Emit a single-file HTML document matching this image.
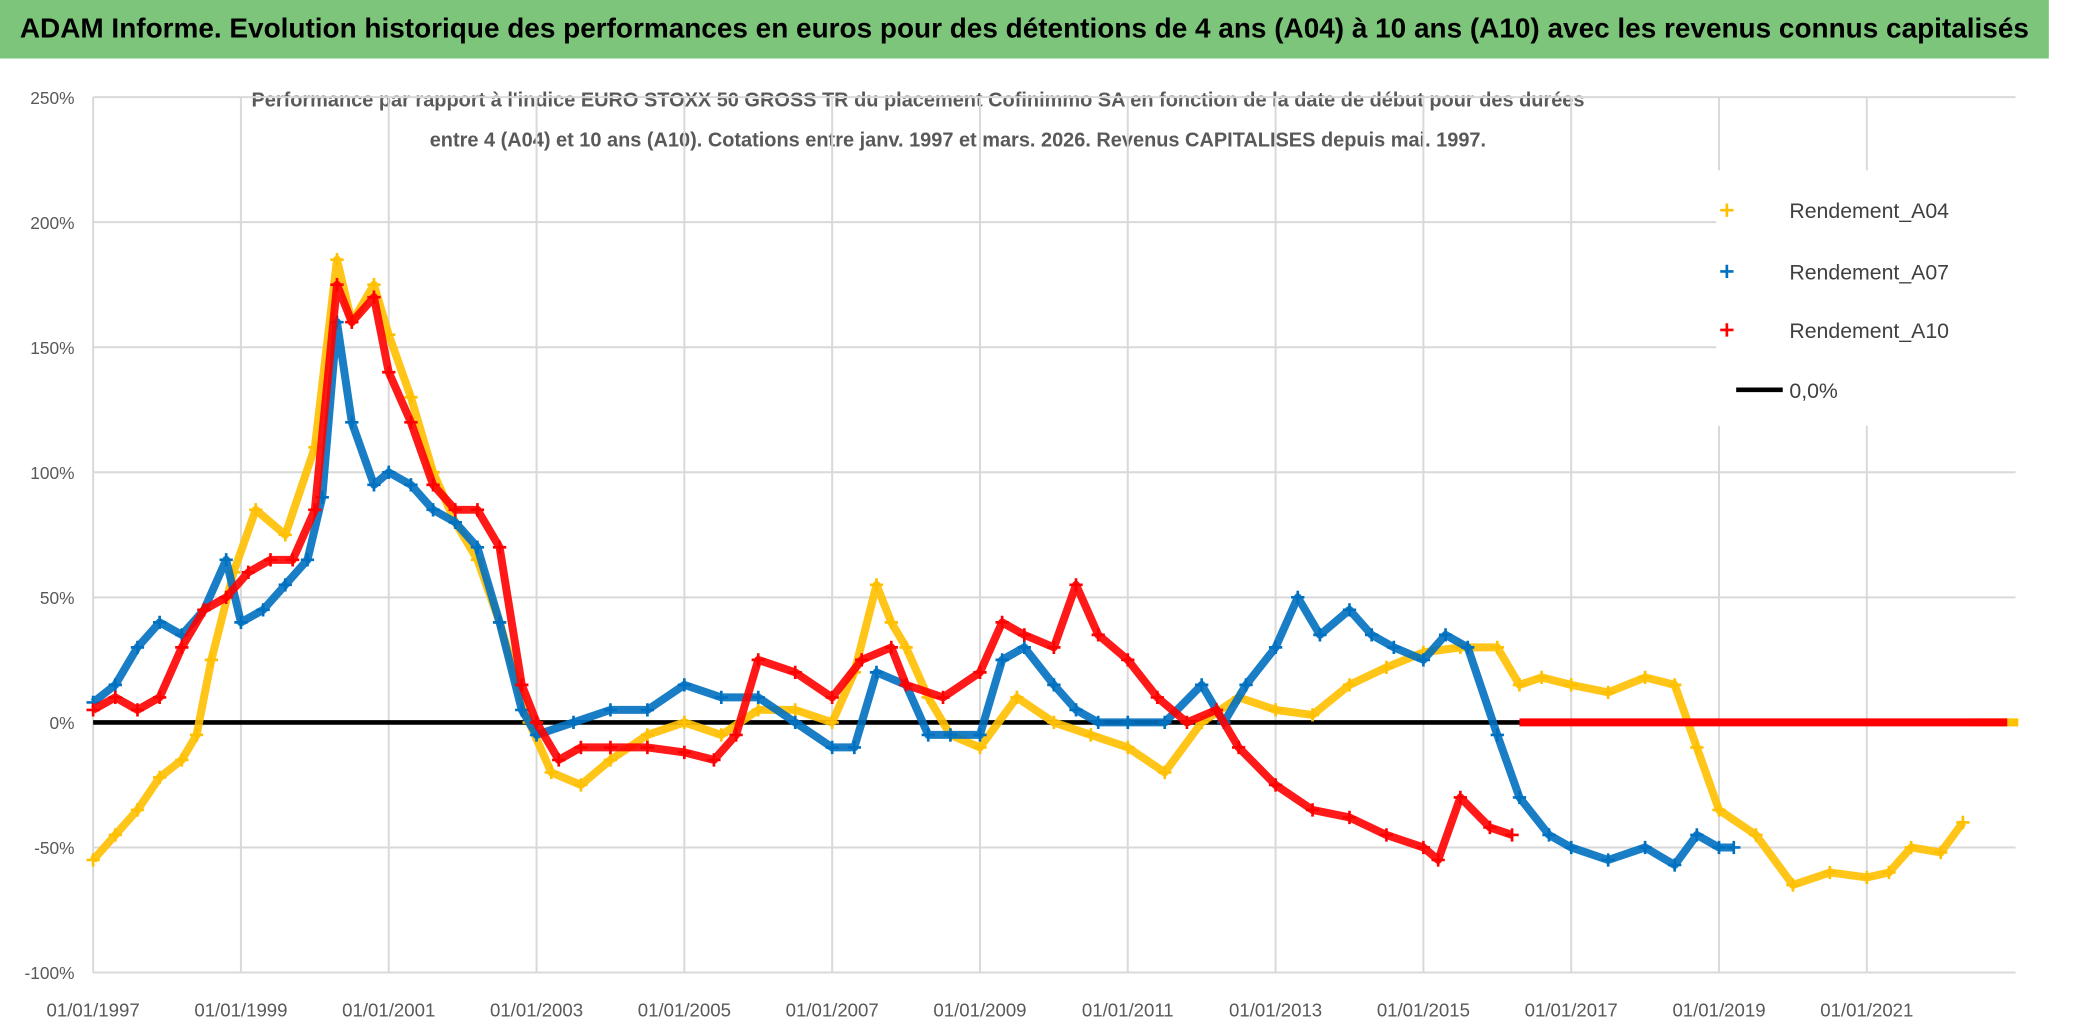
<!DOCTYPE html>
<html><head><meta charset="utf-8">
<style>
body{margin:0;background:#fff;font-family:"Liberation Sans",sans-serif;}
#wrap{position:relative;width:2086px;height:1031px;overflow:hidden;}
#inner{position:absolute;left:0;top:0;width:1568px;height:775px;transform:scale(1.3304);transform-origin:0 0;}
#title{position:absolute;left:0;top:0;width:1540px;height:44px;background:#7cc57a;color:#000;font-weight:bold;font-size:21px;line-height:44px;text-align:center;white-space:nowrap;}
</style></head><body>
<div id="wrap">
<div id="inner">
<div id="title">ADAM Informe. Evolution historique des performances en euros pour des détentions de 4 ans (A04) à 10 ans (A10) avec les revenus connus capitalisés</div>
<svg id="svg" width="1568" height="775" style="position:absolute;left:0;top:0"></svg>
</div>
</div>
<script>
const yTicks=[250,200,150,100,50,0,-50,-100];
const yTickLabels=["250%","200%","150%","100%","50%","0%","-50%","-100%"];
const xTickYears=[1997,1999,2001,2003,2005,2007,2009,2011,2013,2015,2017,2019,2021];
const xTickLabels=["01/01/1997","01/01/1999","01/01/2001","01/01/2003","01/01/2005","01/01/2007","01/01/2009","01/01/2011","01/01/2013","01/01/2015","01/01/2017","01/01/2019","01/01/2021"];
const a04Years=[1997,1997.3,1997.6,1997.9,1998.2,1998.4,1998.6,1998.9,1999.2,1999.6,2000,2000.3,2000.5,2000.8,2001,2001.3,2001.6,2001.9,2002.2,2002.5,2002.9,2003.2,2003.6,2004,2004.5,2005,2005.5,2006,2006.5,2007,2007.3,2007.6,2007.8,2008,2008.3,2008.6,2009,2009.5,2010,2010.5,2011,2011.5,2012,2012.5,2013,2013.5,2014,2014.5,2015,2015.5,2016,2016.3,2016.6,2017,2017.5,2018,2018.4,2018.7,2019,2019.5,2020,2020.5,2021,2021.3,2021.6,2022,2022.3];
const a04Vals=[-55,-45,-35,-22,-15,-5,25,60,85,75,110,185,160,175,155,130,100,80,65,40,0,-20,-25,-15,-5,0,-5,5,5,0,20,55,40,30,10,-5,-10,10,0,-5,-10,-20,0,10,5,3,15,22,28,30,30,15,18,15,12,18,15,-10,-35,-45,-65,-60,-62,-60,-50,-52,-40];
const a04ZeroYears=[2022.4,2023.05];
const a07Years=[1997,1997.3,1997.6,1997.9,1998.2,1998.5,1998.8,1999,1999.3,1999.6,1999.9,2000.1,2000.3,2000.5,2000.8,2001,2001.3,2001.6,2001.9,2002.2,2002.5,2002.8,2003,2003.5,2004,2004.5,2005,2005.5,2006,2006.5,2007,2007.3,2007.6,2008,2008.3,2008.6,2009,2009.3,2009.6,2010,2010.3,2010.6,2011,2011.5,2012,2012.3,2012.6,2013,2013.3,2013.6,2014,2014.3,2014.6,2015,2015.3,2015.6,2016,2016.3,2016.7,2017,2017.5,2018,2018.4,2018.7,2019,2019.2];
const a07Vals=[8,15,30,40,35,45,65,40,45,55,65,90,160,120,95,100,95,85,80,70,40,5,-5,0,5,5,15,10,10,0,-10,-10,20,15,-5,-5,-5,25,30,15,5,0,0,0,15,0,15,30,50,35,45,35,30,25,35,30,-5,-30,-45,-50,-55,-50,-57,-45,-50,-50];
const a10Years=[1997,1997.3,1997.6,1997.9,1998.2,1998.5,1998.8,1999.1,1999.4,1999.7,2000,2000.3,2000.5,2000.8,2001,2001.3,2001.6,2001.9,2002.2,2002.5,2002.8,2003,2003.3,2003.6,2004,2004.5,2005,2005.4,2005.7,2006,2006.5,2007,2007.4,2007.8,2008,2008.5,2009,2009.3,2009.6,2010,2010.3,2010.6,2011,2011.4,2011.8,2012.2,2012.5,2013,2013.5,2014,2014.5,2015,2015.2,2015.5,2015.9,2016.2];
const a10Vals=[5,10,5,10,30,45,50,60,65,65,85,175,160,170,140,120,95,85,85,70,15,0,-15,-10,-10,-10,-12,-15,-5,25,20,10,25,30,15,10,20,40,35,30,55,35,25,10,0,5,-10,-25,-35,-38,-45,-50,-55,-30,-42,-45];
const a10ZeroYears=[2016.3,2022.9];

const NS="http://www.w3.org/2000/svg";
const svg=document.getElementById('svg');
const X0=70,PX=55.55,Y0=543,PY=1.88;
function xs(yr){return X0+(yr-1997)*PX;}
function ys(v){return Y0-v*PY;}
function mk(tag,attrs,parent){const e=document.createElementNS(NS,tag);for(const k in attrs)e.setAttribute(k,attrs[k]);(parent||svg).appendChild(e);return e;}

const st1=mk('text',{x:690,y:80,'text-anchor':'middle','font-size':15,fill:'#595959','font-family':'Liberation Sans, sans-serif','font-weight':'bold'});


st1.textContent="Performance par rapport à l'indice EURO STOXX 50 GROSS TR  du placement Cofinimmo SA en fonction de la date de début pour des durées";
const st2=mk('text',{x:720,y:110,'text-anchor':'middle','font-size':15,fill:'#595959','font-family':'Liberation Sans, sans-serif','font-weight':'bold'});


st2.textContent="entre 4 (A04) et 10 ans (A10). Cotations entre janv. 1997 et mars. 2026. Revenus CAPITALISES depuis mai. 1997.";

yTicks.forEach((v,i)=>{
  const l=mk('line',{x1:X0,x2:1515,y1:ys(v),y2:ys(v),stroke:'#d9d9d9','stroke-width':1.5});
  
  
  const t=mk('text',{x:56,y:ys(v)+5,'text-anchor':'end','font-size':13,fill:'#595959'});
  
  
  t.textContent=yTickLabels[i];
});
xTickYears.forEach((yr,i)=>{
  const l=mk('line',{x1:xs(yr),x2:xs(yr),y1:ys(250),y2:ys(-100),stroke:'#d9d9d9','stroke-width':1.5});
  
  
  const t=mk('text',{x:xs(yr),y:764,'text-anchor':'middle','font-size':14,fill:'#595959'});
  
  
  t.textContent=xTickLabels[i];
});
const zl=mk('line',{x1:X0,x2:1515,y1:ys(0),y2:ys(0),stroke:'#000','stroke-width':3.5});



function series(years,vals,color,name){
  const g=mk('g',{});
  
  
  let d='';
  years.forEach((yr,i)=>{d+=(i?'L':'M')+xs(yr)+' '+ys(vals[i]);});
  mk('path',{d:d,fill:'none',stroke:color,'stroke-width':6,'stroke-linejoin':'round',opacity:0.9},g);
  years.forEach((yr,i)=>{
    const x=xs(yr),y=ys(vals[i]);
    const p=mk('path',{d:`M${x-5} ${y}H${x+5}M${x} ${y-5}V${y+5}`,stroke:color,'stroke-width':2},g);
    
    
  });
  return g;
}
function zeroBand(yrs,color,name){
  const l=mk('line',{x1:xs(yrs[0]),x2:xs(yrs[1]),y1:ys(0),y2:ys(0),stroke:color,'stroke-width':6});
  
  
}
series(a04Years,a04Vals,'#ffc000','series-a04');
zeroBand(a04ZeroYears,'#ffc000','series-a04-zero');
series(a07Years,a07Vals,'#0070c0','series-a07');
series(a10Years,a10Vals,'#ff0000','series-a10');
zeroBand(a10ZeroYears,'#ff0000','series-a10-zero');

const lg=mk('g',{});


mk('rect',{x:1290,y:128,width:225,height:192,fill:'#fff'},lg);
const legItems=[['Rendement_A04','#ffc000',158],['Rendement_A07','#0070c0',204],['Rendement_A10','#ff0000',248]];
legItems.forEach(it=>{
  const x=1298,y=it[2];
  const e=mk('g',{},lg);
  
  
  mk('path',{d:`M${x-5} ${y}H${x+5}M${x} ${y-5}V${y+5}`,stroke:it[1],'stroke-width':2},e);
  const t=mk('text',{x:1345,y:y+6,'font-size':16,fill:'#404040'},e);
  t.textContent=it[0];
});
const le=mk('g',{},lg);


mk('line',{x1:1305,x2:1340,y1:293,y2:293,stroke:'#000','stroke-width':3.5},le);
const lt=mk('text',{x:1345,y:299,'font-size':16,fill:'#404040'},le);
lt.textContent='0,0%';
</script>
</body></html>
